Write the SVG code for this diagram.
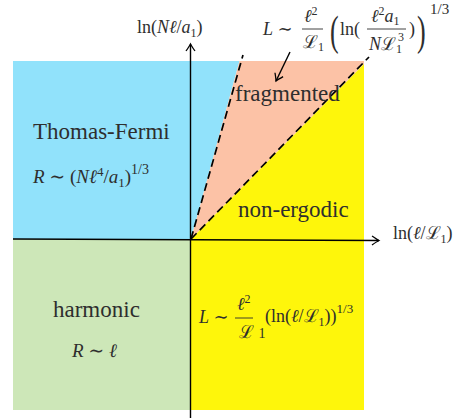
<svg xmlns="http://www.w3.org/2000/svg" width="469" height="418" viewBox="0 0 469 418">
<style>
.t{font-family:"Liberation Serif","DejaVu Serif",serif;fill:#2e2e2e;font-size:23px}
.m{font-family:"Liberation Serif","DejaVu Serif",serif;fill:#2e2e2e;font-size:18px}
.i{font-style:italic}
.s{font-size:12px}
.big{font-size:26px;font-family:"Liberation Serif","DejaVu Serif",serif;fill:#2e2e2e}
.ax{stroke:#000;stroke-width:1.4;fill:none}
.dash{stroke:#000;stroke-width:1.7;fill:none;stroke-dasharray:8 4.5}
.bar{stroke:#2e2e2e;stroke-width:0.9}
</style>
<defs>
<marker id="arr" markerWidth="12" markerHeight="12" refX="0" refY="0" viewBox="-8 -6 10 12" orient="auto" markerUnits="userSpaceOnUse">
<path d="M-7,-4.5 Q-2,-1 0,0 Q-2,1 -7,4.5" stroke="#000" stroke-width="1.3" fill="none"/>
</marker>
</defs>
<rect width="469" height="418" fill="#fff"/>
<g id="regions">
<polygon id="thomas-fermi-region" points="13,61 239.5,61 191,239 13,239" fill="#91E2FB"/>
<polygon id="fragmented-region" points="239.5,61 364,61 364,64 191,239" fill="#FCC2A6"/>
<polygon id="nonergodic-region" points="191,239 364,64 364,410 191,410" fill="#FEF60B"/>
<rect id="harmonic-region" x="13" y="239" width="178" height="171" fill="#CDE7B8"/>
</g>
<g id="connectors">
<line class="ax" x1="13" y1="239" x2="379" y2="240.5" marker-end="url(#arr)"/>
<line class="ax" x1="190.5" y1="418" x2="190.5" y2="44" marker-end="url(#arr)"/>
<line class="dash" x1="191" y1="239" x2="243" y2="55"/>
<line class="dash" x1="191" y1="239" x2="369" y2="57"/>
<line class="ax" x1="290" y1="52" x2="276" y2="81" marker-end="url(#arr)"/>
</g>
<g id="axis-y-label"><text class="m" x="137" y="33">ln(<tspan class="i">Nℓ</tspan>/<tspan class="i">a</tspan><tspan class="s" dy="4">1</tspan><tspan dy="-4">)</tspan></text></g>
<g id="axis-x-label"><text class="m" x="393" y="239">ln(<tspan class="i">ℓ</tspan>/ℒ<tspan class="s" dy="4">1</tspan><tspan dy="-4">)</tspan></text></g>
<g id="fragmented"><text class="t" x="235" y="101">fragmented</text></g>
<g id="thomas-fermi">
<text class="t" x="33" y="139">Thomas-Fermi</text>
<text class="m" x="33" y="183" style="font-size:19px"><tspan class="i">R</tspan> ∼ (<tspan class="i">Nℓ</tspan><tspan dy="-7" style="font-size:13px">4</tspan><tspan dy="7">/</tspan><tspan class="i">a</tspan><tspan dy="4" style="font-size:13px">1</tspan><tspan dy="-4">)</tspan><tspan dy="-9" style="font-size:14px">1/3</tspan></text>
</g>
<g id="non-ergodic"><text class="t" x="238" y="217">non-ergodic</text></g>
<g id="harmonic">
<text class="t" x="53" y="317">harmonic</text>
<text class="m" x="72" y="357" style="font-size:19px"><tspan class="i">R</tspan> ∼ <tspan class="i">ℓ</tspan></text>
</g>
<g id="top-formula">
<text class="m" x="263" y="35"><tspan class="i">L</tspan> ∼</text>
<text class="m" x="304" y="22"><tspan class="i">ℓ</tspan><tspan class="s" dy="-7">2</tspan></text>
<line class="bar" x1="302" y1="29" x2="323" y2="29"/>
<text class="m" x="303" y="48">ℒ<tspan class="s" dy="3">1</tspan></text>
<text class="big" transform="translate(330,45) scale(1,1.6)">(</text>
<text class="m" x="340" y="35">ln(</text>
<text class="m" x="371" y="22"><tspan class="i">ℓ</tspan><tspan class="s" dy="-7">2</tspan><tspan class="i" dy="7">a</tspan><tspan class="s" dy="3">1</tspan></text>
<line class="bar" x1="367" y1="29" x2="406" y2="29"/>
<text class="m" x="369" y="50"><tspan class="i">N</tspan>ℒ<tspan class="s" dy="3">1</tspan><tspan class="s" dx="-4" dy="-12">3</tspan></text>
<text class="m" x="409" y="35">)</text>
<text class="big" transform="translate(417,45) scale(1,1.6)">)</text>
<text class="m" x="430" y="14" style="font-size:15px">1/3</text>
</g>
<g id="bottom-formula">
<text class="m" x="199" y="323"><tspan class="i">L</tspan> ∼</text>
<text class="m" x="237" y="310"><tspan class="i">ℓ</tspan><tspan class="s" dy="-7">2</tspan></text>
<line class="bar" x1="235" y1="318" x2="253" y2="318"/>
<text class="m" x="239" y="338">ℒ <tspan style="font-size:14px">1</tspan></text>
<text class="m" x="265" y="322">(ln(<tspan class="i">ℓ</tspan>/ℒ<tspan class="s" dy="4">1</tspan><tspan dy="-4">))</tspan><tspan class="s" dy="-9" style="font-size:13px">1/3</tspan></text>
</g>
</svg>
